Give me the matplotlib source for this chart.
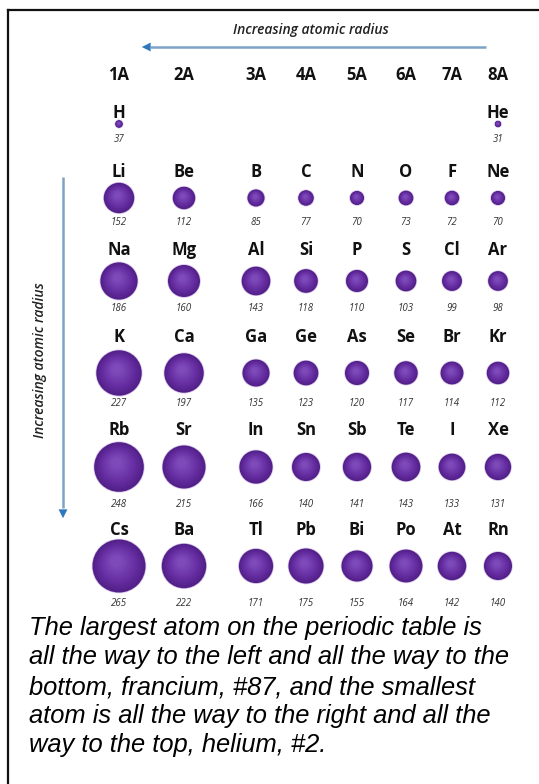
import matplotlib
matplotlib.use("Agg")
import matplotlib.pyplot as plt
from matplotlib.patches import Circle, FancyArrowPatch
import numpy as np

# --- data ---
groups = ["1A", "2A", "3A", "4A", "5A", "6A", "7A", "8A"]
period1 = ["H", "", "", "", "", "", "", "He"]
period1_r = [37, None, None, None, None, None, None, 31]
period2 = ["Li", "Be", "B", "C", "N", "O", "F", "Ne"]
period2_r = [152, 112, 85, 77, 70, 73, 72, 70]
period3 = ["Na", "Mg", "Al", "Si", "P", "S", "Cl", "Ar"]
period3_r = [186, 160, 143, 118, 110, 103, 99, 98]
period4 = ["K", "Ca", "Ga", "Ge", "As", "Se", "Br", "Kr"]
period4_r = [227, 197, 135, 123, 120, 117, 114, 112]
period5 = ["Rb", "Sr", "In", "Sn", "Sb", "Te", "I", "Xe"]
period5_r = [248, 215, 166, 140, 141, 143, 133, 131]
period6 = ["Cs", "Ba", "Tl", "Pb", "Bi", "Po", "At", "Rn"]
period6_r = [265, 222, 171, 175, 155, 164, 142, 140]

symbols = [period1, period2, period3, period4, period5, period6]
radii = [period1_r, period2_r, period3_r, period4_r, period5_r, period6_r]

arrow_label = "Increasing atomic radius"
caption_lines = [
    "The largest atom on the periodic table is",
    "all the way to the left and all the way to the",
    "bottom, francium, #87, and the smallest",
    "atom is all the way to the right and all the",
    "way to the top, helium, #2.",
]

# --- layout (pixel coordinates, y down) ---
col_x = [119, 184, 256, 306, 357, 406, 452, 498]
label_y = [113, 172, 250, 337, 430, 530]
sphere_y = [124, 198, 281, 373, 467, 566]
number_y = [139, 222, 308, 403, 504, 603]
px_per_pm = 0.1  # sphere radius in px per pm

W, H = 539, 784
fig = plt.figure(figsize=(W / 100, H / 100), dpi=100)
ax = fig.add_axes([0, 0, 1, 1])
ax.set_xlim(0, W)
ax.set_ylim(H, 0)
ax.axis("off")

dark = np.array([0x52, 0x20, 0x88]) / 255
mid = np.array([0x66, 0x2e, 0xa2]) / 255
light = np.array([0x7e, 0x4a, 0xba]) / 255


def draw_sphere(x, y, r):
    ax.add_patch(Circle((x, y), r + 0.8, color="#d8c6ea", lw=0, zorder=2))
    ax.add_patch(Circle((x, y), r, color=dark, lw=0, zorder=3))
    n = 16
    for i in range(1, n):
        t = i / (n - 1)
        rr = r * (1 - 0.8 * t)
        cx = x - 0.1 * r * t
        cy = y - 0.18 * r * t
        if t < 0.4:
            c = dark + (mid - dark) * (t / 0.4)
        else:
            c = mid + (light - mid) * ((t - 0.4) / 0.6)
        ax.add_patch(Circle((cx, cy), rr, color=c, lw=0, zorder=3))


# group headers
for gx, g in zip(col_x, groups):
    ax.text(gx, 75, g, ha="center", va="center", fontsize=12,
            fontweight="bold", family="Open Sans", color="#111111")

# elements
for row in range(len(symbols)):
    for c in range(8):
        sym = symbols[row][c]
        r = radii[row][c]
        if not sym:
            continue
        ax.text(col_x[c], label_y[row], sym, ha="center", va="center",
                fontsize=12, fontweight="bold", family="Open Sans",
                color="#111111")
        draw_sphere(col_x[c], sphere_y[row], r * px_per_pm)
        ax.text(col_x[c], number_y[row], str(r), ha="center", va="center",
                fontsize=7, style="italic", family="Open Sans",
                color="#333333")

# horizontal arrow
ax.plot([486, 150], [47, 47], color="#7ea3c6", lw=1.8, solid_capstyle="butt")
ax.add_patch(FancyArrowPatch((156, 47), (139, 47), arrowstyle="-|>",
                             mutation_scale=16, color="#2f78bd", lw=0))
ax.text(311, 30, arrow_label, ha="center", va="center", fontsize=10,
        style="italic", fontweight="semibold", family="Open Sans",
        color="#222222")

# vertical arrow
ax.plot([63, 63], [177, 508], color="#7ea3c6", lw=1.8, solid_capstyle="butt")
ax.add_patch(FancyArrowPatch((63, 502), (63, 521), arrowstyle="-|>",
                             mutation_scale=16, color="#2f78bd", lw=0))
ax.text(40, 360, arrow_label, ha="center", va="center", fontsize=10,
        style="italic", fontweight="semibold", family="Open Sans",
        rotation=90, color="#222222")

# caption
cap_y = [628, 657, 687, 716, 745]
for ly, line in zip(cap_y, caption_lines):
    ax.text(29, ly, line, ha="left", va="center", fontsize=18.4,
            style="italic", family="Liberation Sans", color="#000000")

# frame
ax.plot([8, 8], [H, 10], color="#111111", lw=1.6, solid_capstyle="projecting")
ax.plot([8, W], [10, 10], color="#111111", lw=1.6, solid_capstyle="projecting")

fig.savefig("out.png", dpi=100)
